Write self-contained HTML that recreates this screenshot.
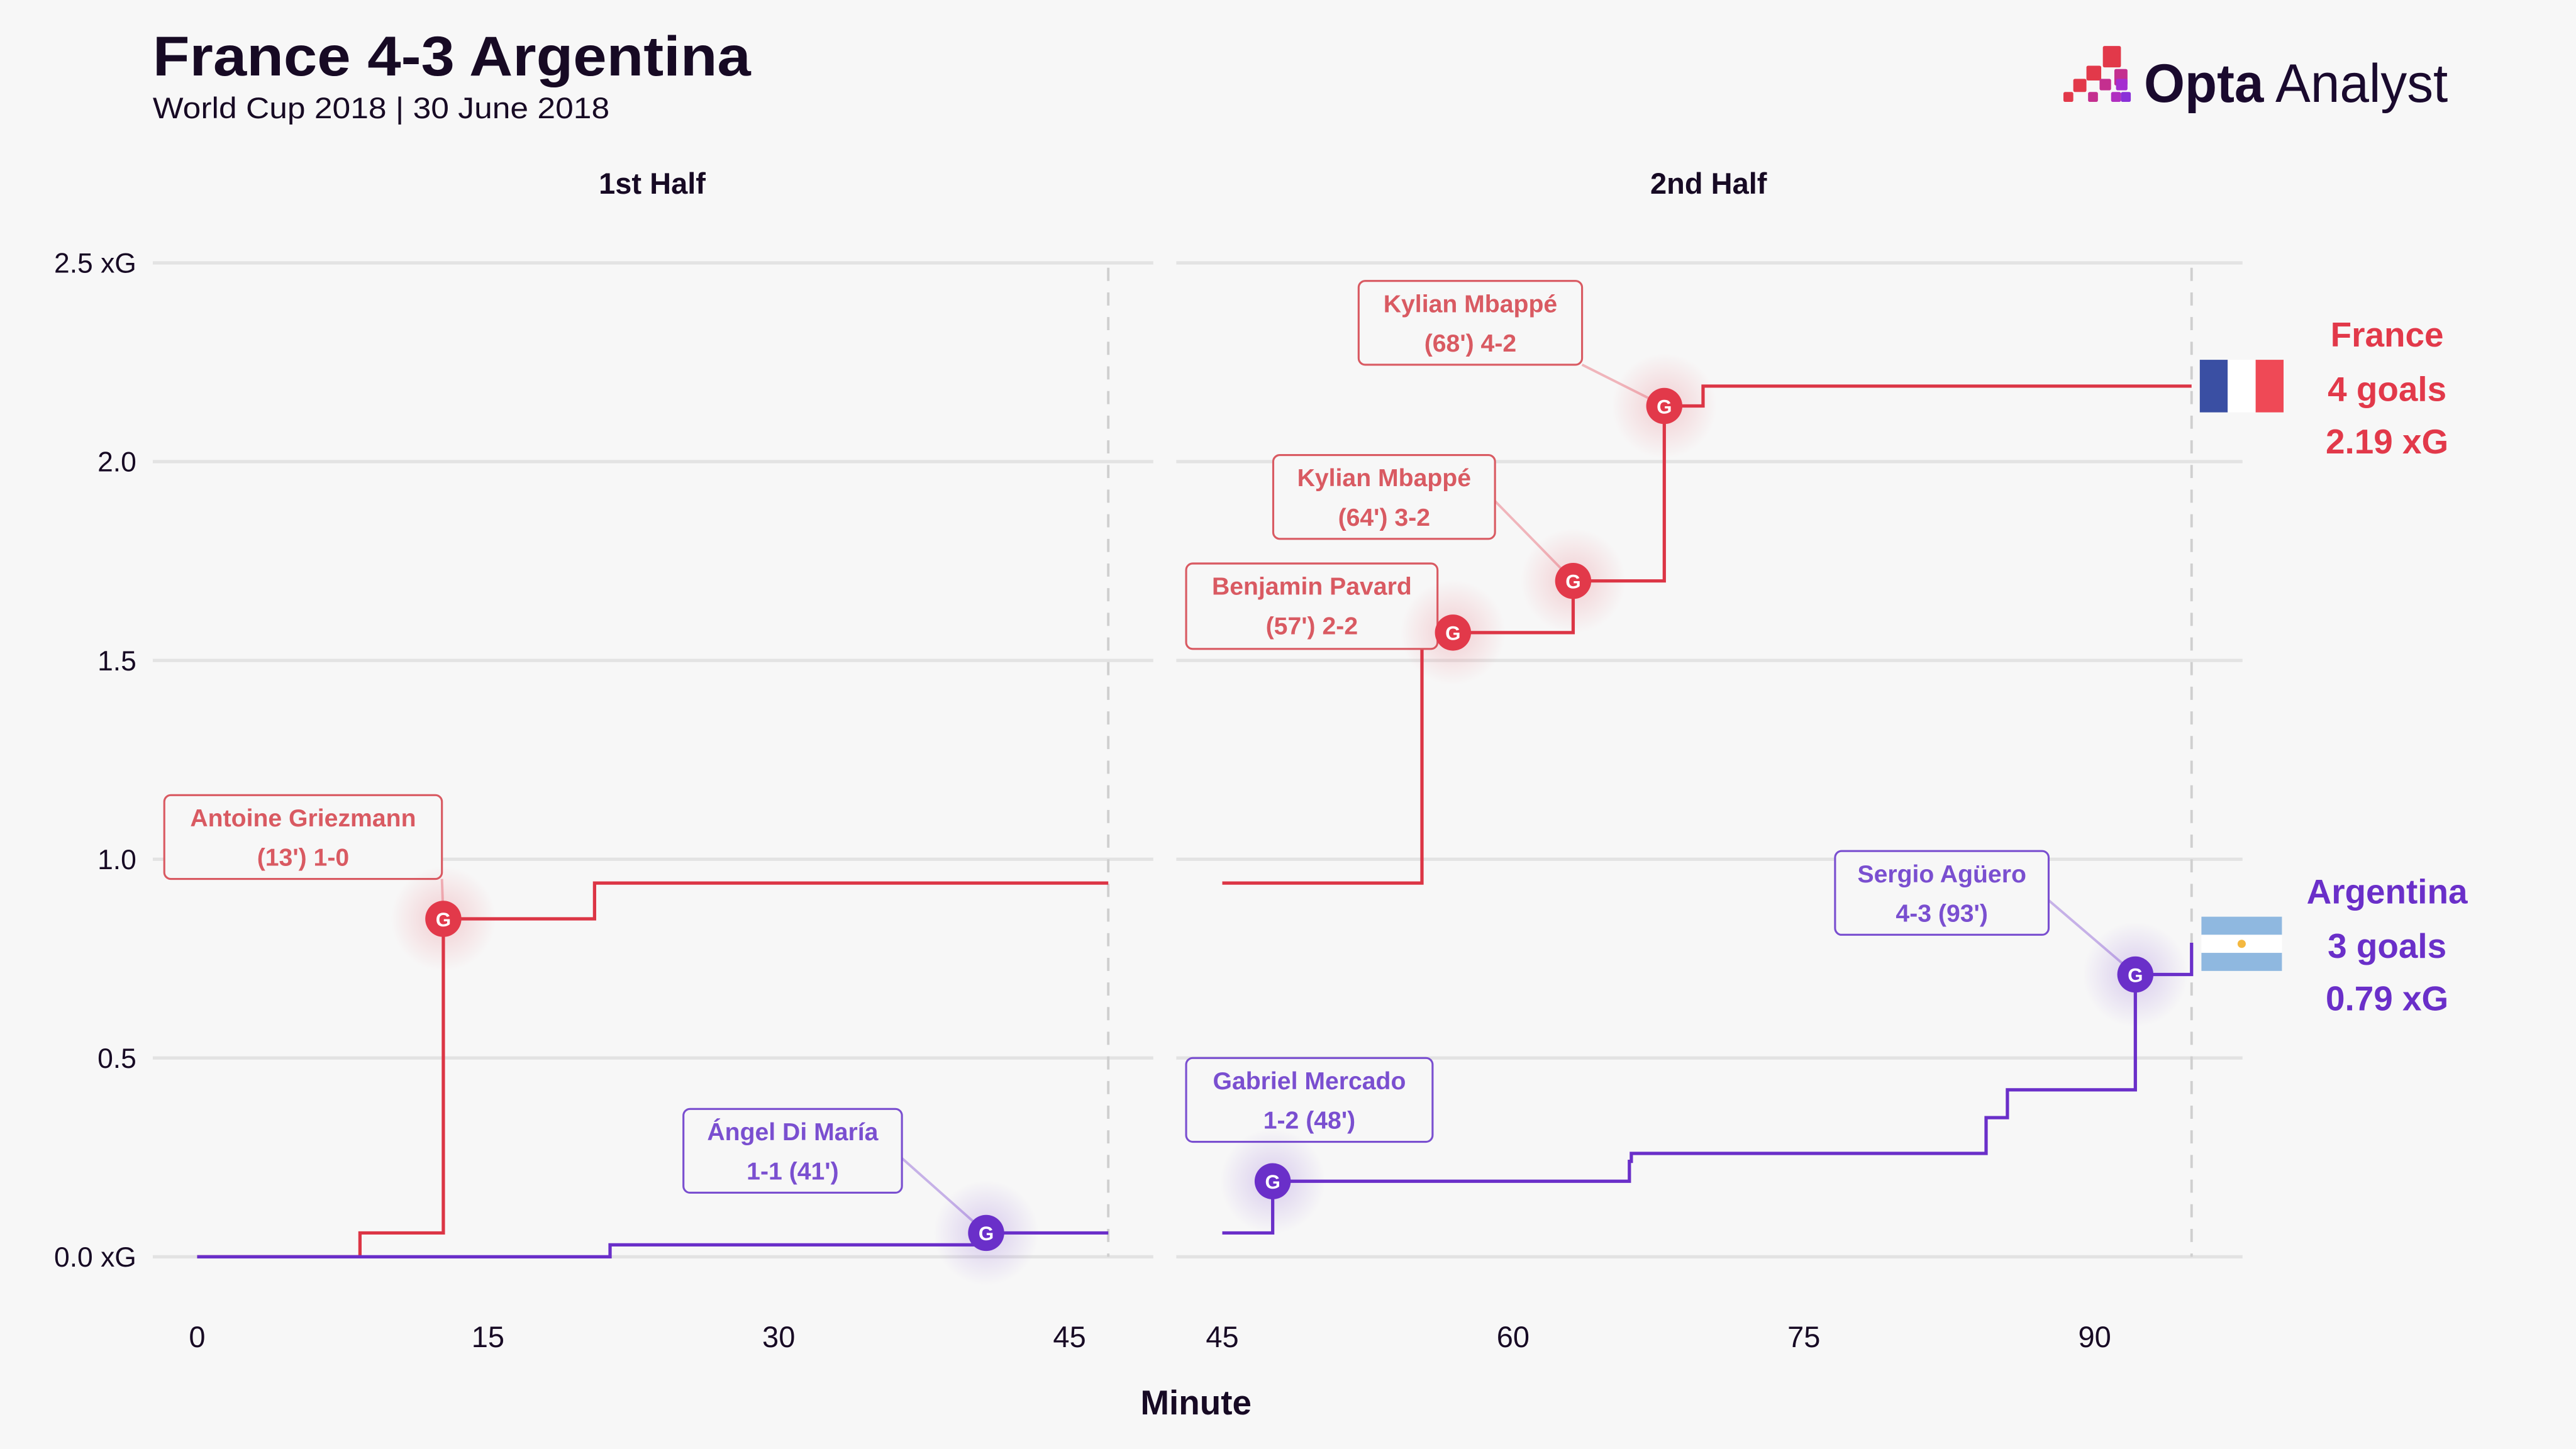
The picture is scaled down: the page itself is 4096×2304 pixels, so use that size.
<!DOCTYPE html>
<html><head><meta charset="utf-8"><style>
html,body{margin:0;padding:0;background:#f7f7f7;}
svg{display:block;font-family:"Liberation Sans",sans-serif;}
</style></head><body>
<svg id="chart" width="4096" height="2304" viewBox="0 0 1568 882">
<defs>
<radialGradient id="glowR"><stop offset="0" stop-color="#e2394a" stop-opacity="0.22"/><stop offset="1" stop-color="#e2394a" stop-opacity="0"/></radialGradient>
<radialGradient id="glowP"><stop offset="0" stop-color="#6a2fc9" stop-opacity="0.22"/><stop offset="1" stop-color="#6a2fc9" stop-opacity="0"/></radialGradient>
</defs>
<rect width="1568" height="882" fill="#f7f7f7"/>
<text x="93" y="46" font-size="34" font-weight="bold" fill="#170a24" textLength="364" lengthAdjust="spacingAndGlyphs">France 4-3 Argentina</text>
<text x="93" y="72" font-size="18" fill="#170a24" textLength="278" lengthAdjust="spacingAndGlyphs">World Cup 2018 | 30 June 2018</text>
<g>
<rect x="1256" y="56" width="6" height="6" rx="1" fill="#e2394a"/>
<rect x="1262" y="48" width="8" height="8" rx="1" fill="#e2394a"/>
<rect x="1270" y="40" width="9" height="9" rx="1" fill="#e2394a"/>
<rect x="1280" y="28" width="11" height="13" rx="1" fill="#e2394a"/>
<rect x="1271" y="56" width="6" height="6" rx="1" fill="#c42f8f"/>
<rect x="1278" y="48" width="7" height="7" rx="1" fill="#c42f8f"/>
<rect x="1285" y="56" width="6" height="6" rx="1" fill="#b02fc0"/>
<rect x="1287" y="42" width="8" height="10" rx="1" fill="#c42f8f"/>
<rect x="1288" y="48" width="7" height="7" rx="1" fill="#a52fd0"/>
<rect x="1291" y="56" width="6" height="6" rx="1" fill="#8a2fd8"/>
<text x="1305" y="62" font-size="33" fill="#1a0a2e" textLength="185" lengthAdjust="spacingAndGlyphs"><tspan font-weight="bold">Opta</tspan> Analyst</text>
</g>
<text x="397" y="118" font-size="18" font-weight="bold" text-anchor="middle" fill="#170a24">1st Half</text>
<text x="1040" y="118" font-size="18" font-weight="bold" text-anchor="middle" fill="#170a24">2nd Half</text>
<text x="728" y="861" font-size="21" font-weight="bold" text-anchor="middle" fill="#170a24">Minute</text>
<g id="grid"></g><g id="lines"></g><g id="marks"></g>
<g>
<rect x="1339" y="219" width="17" height="32" fill="#3a4fa3"/><rect x="1356" y="219" width="17" height="32" fill="#ffffff"/><rect x="1373" y="219" width="17" height="32" fill="#ef4956"/>
</g>
<g>
<rect x="1340" y="558" width="49" height="11" fill="#8fb8e0"/><rect x="1340" y="569" width="49" height="11" fill="#ffffff"/><rect x="1340" y="580" width="49" height="11" fill="#8fb8e0"/><circle cx="1364.5" cy="574.5" r="2.5" fill="#f4b840"/>
</g>
<g font-size="21" font-weight="bold" text-anchor="middle">
<text x="1453" y="211" fill="#e2394a">France</text>
<text x="1453" y="244" fill="#e2394a">4 goals</text>
<text x="1453" y="276" fill="#e2394a">2.19 xG</text>
<text x="1453" y="550" fill="#6a2fc9">Argentina</text>
<text x="1453" y="583" fill="#6a2fc9">3 goals</text>
<text x="1453" y="615" fill="#6a2fc9">0.79 xG</text>
</g>
</svg>
<script>
const yTicks=[0,0.5,1.0,1.5,2.0,2.5];
const yTickLabels=["0.0 xG","0.5","1.0","1.5","2.0","2.5 xG"];
const xTicksH1=[0,15,30,45];
const xTicksH2=[45,60,75,90];
const franceH1=[[0,0],[8.4,0.06],[12.7,0.85],[20.5,0.94],[47,0.94]];
const argentinaH1=[[0,0],[21.3,0.03],[40.7,0.06],[47,0.06]];
const franceH2=[[45,0.94],[55.3,1.57],[63.1,1.70],[67.8,2.14],[69.8,2.19],[95,2.19]];
const argentinaH2=[[45,0.06],[47.6,0.19],[66,0.24],[66.1,0.26],[84.4,0.35],[85.5,0.42],[92.1,0.71],[95,0.79]];
const goalMinutes=[12.7,40.7,56.9,63.1,67.8,47.6,92.1];
const goalXg=[0.85,0.06,1.57,1.70,2.14,0.19,0.71];
const goalTeams=["fra","arg","fra","fra","fra","arg","arg"];
const goalLine1=["Antoine Griezmann","Ángel Di María","Benjamin Pavard","Kylian Mbappé","Kylian Mbappé","Gabriel Mercado","Sergio Agüero"];
const goalLine2=["(13') 1-0","1-1 (41')","(57') 2-2","(64') 3-2","(68') 4-2","1-2 (48')","4-3 (93')"];
const NS="http://www.w3.org/2000/svg";
function y(v){return 765-v*242;}
function x1(m){return 120+m*11.8;}
function x2(m){return 744+(m-45)*11.8;}
function mk(tag,attrs,parent){const e=document.createElementNS(NS,tag);for(const k in attrs)e.setAttribute(k,attrs[k]);parent.appendChild(e);return e;}
const grid=document.getElementById('grid'),lines=document.getElementById('lines'),marks=document.getElementById('marks');
yTicks.forEach((t,i)=>{
 const a=mk('line',{x1:93,x2:702,y1:y(t),y2:y(t),stroke:'#e3e3e3','stroke-width':2},grid);
 
 
 const b=mk('line',{x1:716,x2:1365,y1:y(t),y2:y(t),stroke:'#e3e3e3','stroke-width':2},grid);
 
 
 const tx=mk('text',{x:83,y:y(t)+6,'font-size':17,'text-anchor':'end',fill:'#170a24'},grid);
 tx.textContent=yTickLabels[i];
 
 
});
[[x1(47)],[x2(95)]].forEach(p=>{
 const d=mk('line',{x1:p[0],x2:p[0],y1:163,y2:765,stroke:'#cfcfcf','stroke-width':1.5,'stroke-dasharray':'8 7'},grid);
 
 
});
xTicksH1.forEach(t=>{const e=mk('text',{x:x1(t),y:820,'font-size':18,'text-anchor':'middle',fill:'#170a24'},grid);e.textContent=t;
 
 });
xTicksH2.forEach(t=>{const e=mk('text',{x:x2(t),y:820,'font-size':18,'text-anchor':'middle',fill:'#170a24'},grid);e.textContent=t;
 
 });
function step(data,fx,color,name){
 let d='M'+fx(data[0][0])+','+y(data[0][1]);
 for(let i=1;i<data.length;i++){d+='H'+fx(data[i][0])+'V'+y(data[i][1]);}
 const p=mk('path',{d:d,fill:'none',stroke:color,'stroke-width':2},lines);
 
 
}
step(franceH1,x1,'#dc3545','france-line-h1');
step(argentinaH1,x1,'#6a2fc9','argentina-line-h1');
step(franceH2,x2,'#dc3545','france-line-h2');
step(argentinaH2,x2,'#6a2fc9','argentina-line-h2');
const boxes=[[100,484,169,51],[416,675,133,51],[722,343,153,52],[775,277,135,51],[827,171,136,51],[722,644,150,51],[1117,518,130,51]];
const anchors=[[269,535],[549,705],null,[910,305],[963,222],null,[1247,548]];
goalMinutes.forEach((m,i)=>{
 const fx=(i<2)?x1:x2;
 const cx=fx(m),cy=y(goalXg[i]);
 const isF=goalTeams[i]==='fra';
 const col=isF?'#e2394a':'#6a2fc9';
 const tcol=isF?'#d95a62':'#7a4fd0';
 const g=mk('g',{},marks);
 
 
 if(anchors[i]){mk('line',{x1:anchors[i][0],y1:anchors[i][1],x2:cx,y2:cy,stroke:col,'stroke-opacity':0.35,'stroke-width':1.5},g);}
 const b=boxes[i];
 mk('rect',{x:b[0],y:b[1],width:b[2],height:b[3],rx:4,fill:'#f7f7f7',stroke:tcol,'stroke-width':1.2},g);
 const t1=mk('text',{x:b[0]+b[2]/2,y:b[1]+19,'font-size':15,'font-weight':'bold','text-anchor':'middle',fill:tcol},g);t1.textContent=goalLine1[i];
 const t2=mk('text',{x:b[0]+b[2]/2,y:b[1]+43,'font-size':15,'font-weight':'bold','text-anchor':'middle',fill:tcol},g);t2.textContent=goalLine2[i];
 mk('circle',{cx:cx,cy:cy,r:32,fill:isF?'url(#glowR)':'url(#glowP)'},g);
 const c=mk('circle',{cx:cx,cy:cy,r:11,fill:col},g);
 
 
 const gt=mk('text',{x:cx,y:cy+4.5,'font-size':12,'font-weight':'bold','text-anchor':'middle',fill:'#fff'},g);gt.textContent='G';
});
</script>
</body></html>
